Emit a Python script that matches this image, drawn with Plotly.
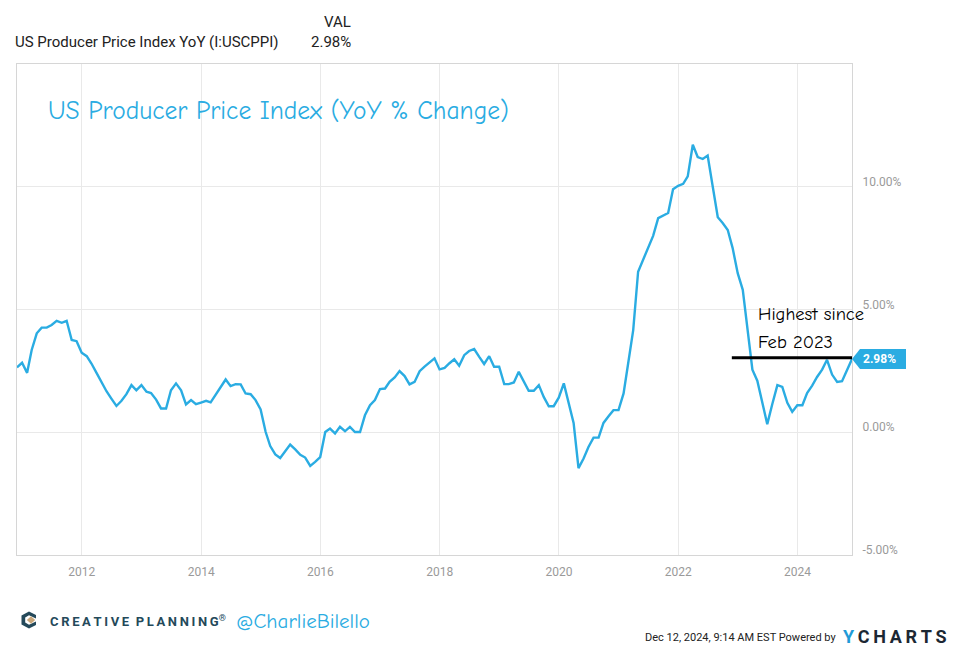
import pandas as pd
import plotly.graph_objects as go

# ---------------- data ----------------
start_month = "2010-11-30"
end_month = "2024-11-30"
ppi_yoy = [
    2.64, 2.83, 2.42, 3.35, 4.03, 4.26, 4.26, 4.37, 4.54, 4.46, 4.54, 3.76, 3.71,
    3.24, 3.10, 2.80, 2.42, 2.05, 1.67, 1.37, 1.07, 1.28, 1.55, 1.92, 1.71,
    1.92, 1.65, 1.60, 1.33, 0.97, 0.97, 1.71, 1.99, 1.71, 1.13, 1.31, 1.14,
    1.21, 1.28, 1.22, 1.55, 1.85, 2.15, 1.88, 1.96, 1.95, 1.58, 1.55, 1.31,
    0.93, 0.01, -0.56, -0.90, -1.05, -0.78, -0.50, -0.70, -0.92, -1.03, -1.37, -1.21,
    -1.01, 0.01, 0.15, -0.05, 0.22, 0.04, 0.22, 0.01, 0.01, 0.69, 1.10, 1.31,
    1.76, 1.78, 2.05, 2.23, 2.49, 2.29, 1.95, 2.05, 2.49, 2.67, 2.83, 3.01,
    2.56, 2.62, 2.80, 2.97, 2.71, 3.14, 3.31, 3.39, 3.07, 2.78, 3.10, 2.67,
    2.67, 1.96, 1.96, 2.03, 2.46, 2.10, 1.69, 1.69, 1.92, 1.44, 1.06, 1.06,
    1.41, 1.99, 1.17, 0.38, -1.46, -1.07, -0.60, -0.22, -0.22, 0.38, 0.65, 0.90,
    0.90, 1.58, 2.80, 4.16, 6.54, 7.02, 7.56, 8.00, 8.72, 8.82, 8.93, 9.90,
    10.04, 10.12, 10.42, 11.71, 11.21, 11.13, 11.27, 10.01, 8.76, 8.52, 8.24, 7.50,
    6.48, 5.80, 4.20, 2.55, 2.10, 1.24, 0.33, 1.15, 1.92, 1.85, 1.20, 0.83,
    1.10, 1.10, 1.60, 1.90, 2.25, 2.55, 2.95, 2.35, 2.05, 2.08, 2.55, 2.98,
]
dates = pd.date_range(start_month, end_month, freq="ME")
y_range = [-5, 15]
y_ticks = [-5, 0, 5, 10]
y_tick_labels = ["-5.00%", "0.00%", "5.00%", "10.00%"]
series_name = "US Producer Price Index YoY (I:USCPPI)"
last_val = ppi_yoy[-1]
last_label = f"{last_val:.2f}%"
highlight_start = "2022-11-25"   # start of the "highest since" reference line
title_text = "US Producer Price Index (YoY % Change)"

# ---------------- layout helpers ----------------
W, H = 953, 648
ML, MR, MT, MB = 17, 101, 64, 93
PW, PH = W - ML - MR, H - MT - MB


def px(x):
    return (x - ML) / PW


def py(y):
    return (H - MB - y) / PH


BLUE = "#2AACE2"
HAND = "Comic Sans MS, Comic Neue, cursive"

fig = go.Figure()
fig.add_trace(go.Scatter(
    x=dates, y=ppi_yoy, mode="lines",
    line=dict(color=BLUE, width=2.4),
    hoverinfo="skip", showlegend=False,
))

shapes = [
    # reference line
    dict(type="line", xref="x", yref="y", x0=highlight_start, x1=dates[-1],
         y0=last_val + 0.05, y1=last_val + 0.05, line=dict(color="black", width=3)),
    # last value tag (pointer box)
    dict(type="path", xref="paper", yref="y", xsizemode="pixel", ysizemode="pixel",
         xanchor=1, yanchor=last_val,
         path="M0,0 L8,-10 L54,-10 L54,10 L8,10 Z",
         fillcolor=BLUE, line=dict(width=0)),
    # Creative Planning logo
    dict(type="path", xref="paper", yref="paper", xsizemode="pixel", ysizemode="pixel",
         xanchor=px(29), yanchor=py(620),
         path="M7,5 L0,8.5 L-7.5,4.5 L-7.5,-4.5 L0,-8.5 L7,-5 L7,-1.5 L0,-4.8 L-3.8,-2.6 L-3.8,2.6 L0,4.8 L7,1.5 Z",
         fillcolor="#24495a", line=dict(width=0)),
    dict(type="path", xref="paper", yref="paper", xsizemode="pixel", ysizemode="pixel",
         xanchor=px(31), yanchor=py(620),
         path="M0,-3.8 L4.2,0 L0,3.8 L-4.2,0 Z",
         fillcolor="#c9a77a", line=dict(width=0)),
]

annotations = [
    dict(xref="x", yref="y", x=dates[-1], y=last_val, xshift=9, xanchor="left",
         text=f"<b>{last_label}</b>", showarrow=False,
         font=dict(family="Roboto", size=12, color="white")),
    dict(xref="paper", yref="paper", x=px(756), y=py(314), xanchor="left", yanchor="middle",
         text="Highest since", showarrow=False,
         font=dict(family=HAND, size=18.5, color="black")),
    dict(xref="paper", yref="paper", x=px(756), y=py(342), xanchor="left", yanchor="middle",
         text="Feb 2023", showarrow=False,
         font=dict(family=HAND, size=18.5, color="black")),
    dict(xref="paper", yref="paper", x=px(46), y=py(110), xanchor="left", yanchor="middle",
         text=title_text, showarrow=False,
         font=dict(family=HAND, size=25.5, color=BLUE)),
    dict(xref="paper", yref="paper", x=px(13), y=py(42), xanchor="left", yanchor="middle",
         text=series_name, showarrow=False,
         font=dict(family="Roboto", size=15, color="#222")),
    dict(xref="paper", yref="paper", x=px(353), y=py(22), xanchor="right", yanchor="middle",
         text="VAL", showarrow=False,
         font=dict(family="Roboto", size=15, color="#222")),
    dict(xref="paper", yref="paper", x=px(353), y=py(42), xanchor="right", yanchor="middle",
         text=last_label, showarrow=False,
         font=dict(family="Roboto", size=15, color="#222")),
    dict(xref="paper", yref="paper", x=px(48), y=py(621), xanchor="left", yanchor="middle",
         text="<b>C\u2009R\u2009E\u2009A\u2009T\u2009I\u2009V\u2009E\u2002P\u2009L\u2009A\u2009N\u2009N\u2009I\u2009N\u2009G</b><sup>®</sup>",
         showarrow=False, font=dict(family="Roboto", size=13, color="#24495a")),
    dict(xref="paper", yref="paper", x=px(234), y=py(621), xanchor="left", yanchor="middle",
         text="@CharlieBilello", showarrow=False,
         font=dict(family=HAND, size=21, color=BLUE)),
    dict(xref="paper", yref="paper", x=px(838), y=py(637), xanchor="right", yanchor="middle",
         text="Dec 12, 2024, 9:14 AM EST Powered by", showarrow=False,
         font=dict(family="Roboto", size=11, color="#222")),
    dict(xref="paper", yref="paper", x=px(841), y=py(636), xanchor="left", yanchor="middle",
         text="<b><span style='color:#1f9bd7'>Y</span>\u2009C\u2009H\u2009A\u2009R\u2009T\u2009S</b>",
         showarrow=False, font=dict(family="Roboto", size=18, color="#1c2733")),
]

fig.update_layout(
    width=W, height=H,
    margin=dict(l=ML, r=MR, t=MT, b=MB),
    paper_bgcolor="white", plot_bgcolor="white",
    showlegend=False, hovermode=False,
    shapes=shapes, annotations=annotations,
    xaxis=dict(
        type="date", range=[dates[0], dates[-1]],
        tick0="2012-01-01", dtick="M24", tickformat="%Y",
        showgrid=True, gridcolor="#e9e9e9", gridwidth=1,
        showline=True, linecolor="#d6d6d6", linewidth=1, mirror=True,
        ticks="", ticklabelstandoff=6,
        tickfont=dict(family="Roboto", size=12, color="#9a9a9a"),
        zeroline=False, fixedrange=True,
    ),
    yaxis=dict(
        side="right", range=y_range,
        tickvals=y_ticks, ticktext=y_tick_labels,
        showgrid=True, gridcolor="#e9e9e9", gridwidth=1,
        showline=True, linecolor="#d6d6d6", linewidth=1, mirror=True,
        ticks="", ticklabelstandoff=7, ticklabelshift=-5,
        tickfont=dict(family="Roboto", size=12, color="#9a9a9a"),
        zeroline=False, fixedrange=True,
    ),
)

fig.write_html("out.html", config={"displayModeBar": False},
               post_script="document.body.style.margin='0px';")
